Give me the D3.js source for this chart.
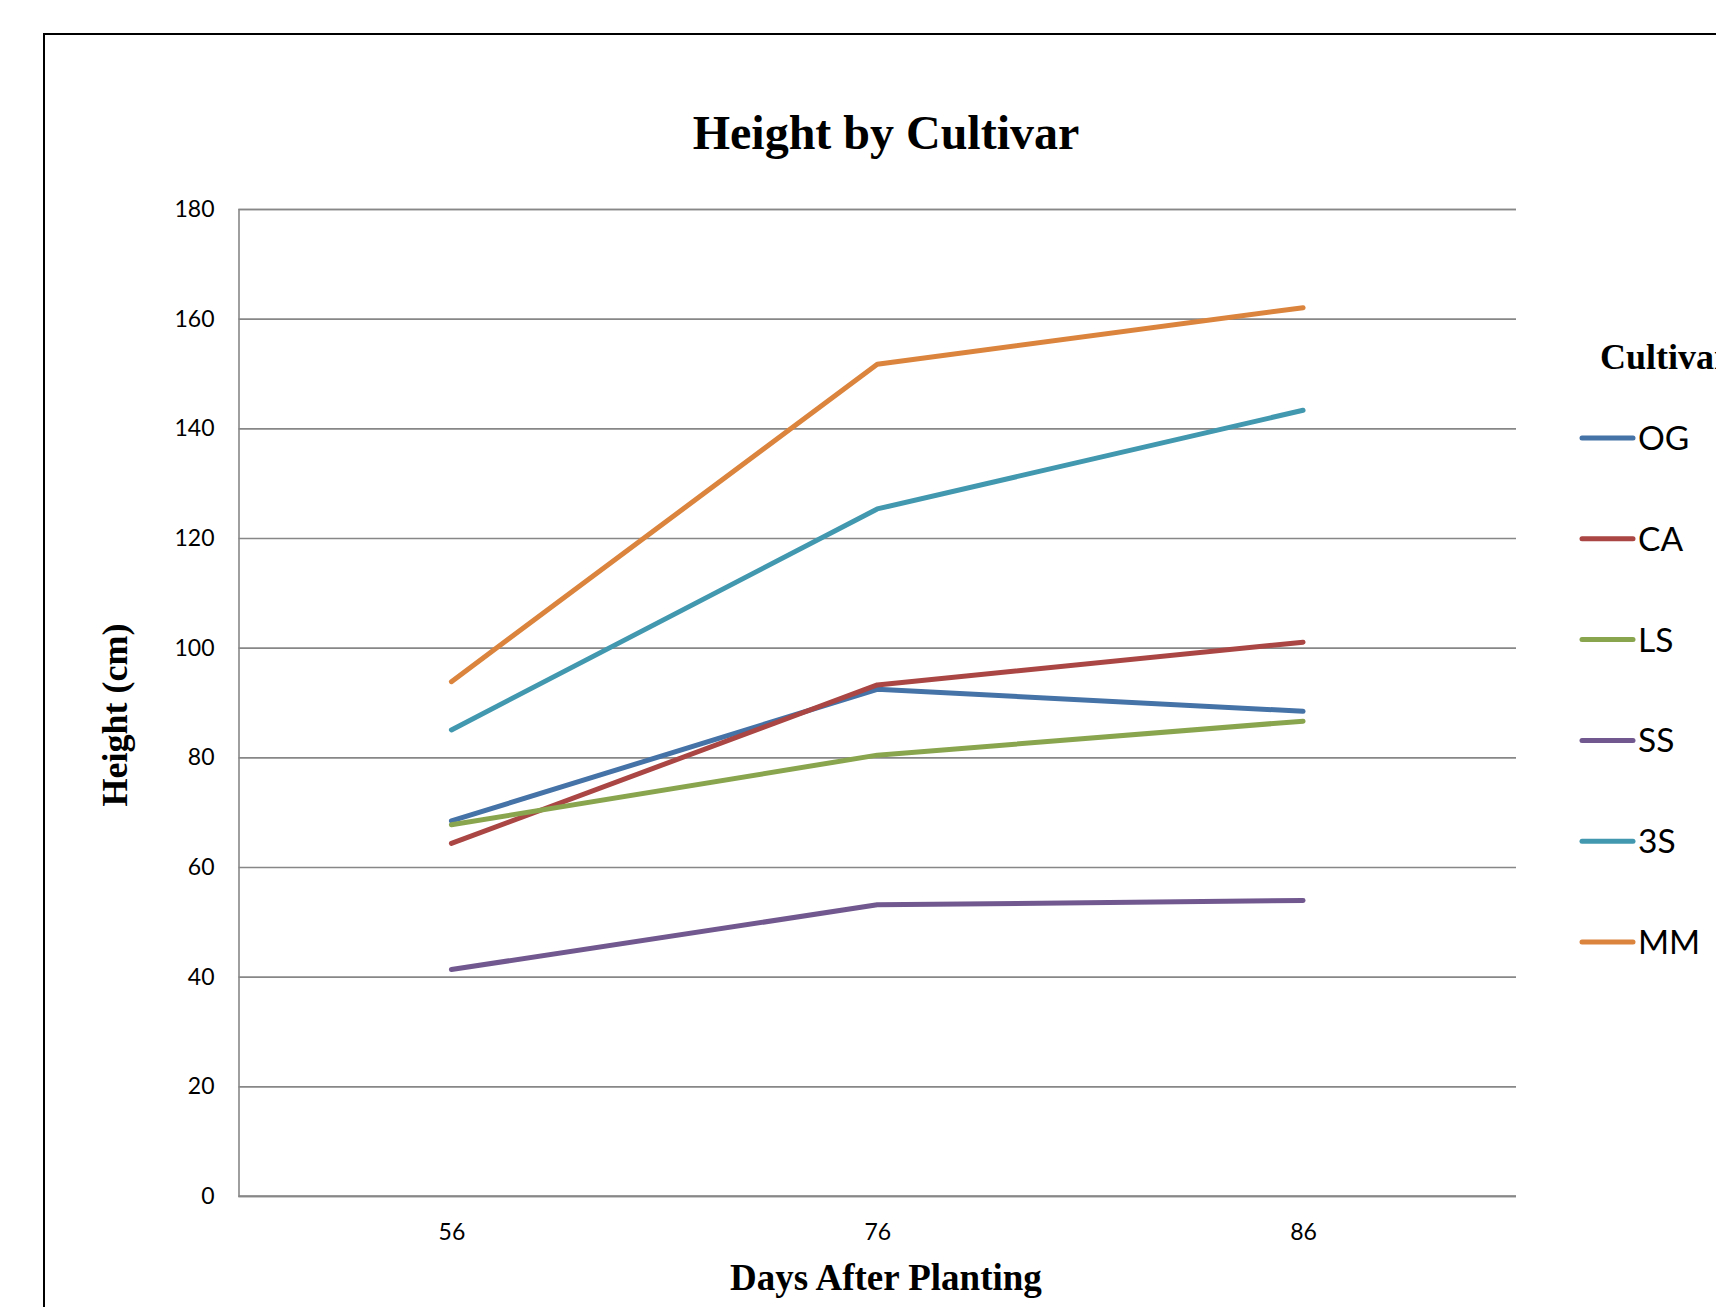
<!DOCTYPE html>
<html>
<head>
<meta charset="utf-8">
<script src="https://cdn.jsdelivr.net/npm/d3@7"></script>
<style>
  html, body { margin: 0; padding: 0; background: #ffffff; overflow: hidden; }
  svg { display: block; }
</style>
</head>
<body>
<script>
// ---- data ----
const categories = ["56", "76", "86"];
const seriesNames = ["OG", "CA", "LS", "SS", "3S", "MM"];
const OG = [68.4, 92.4, 88.4];
const CA = [64.3, 93.2, 101.0];
const LS = [67.7, 80.4, 86.6];
const SS = [41.3, 53.1, 53.9];
const S3 = [85.0, 125.3, 143.3];
const MM = [93.8, 151.7, 162.0];
const yTicks = [0, 20, 40, 60, 80, 100, 120, 140, 160, 180];
const colors = ["#4572A7", "#AA4643", "#89A54E", "#71588F", "#4198AF", "#DB843D"];

const seriesValues = [OG, CA, LS, SS, S3, MM];
const series = seriesNames.map((name, i) => ({
  name, color: colors[i],
  values: categories.map((c, j) => ({ cat: c, v: seriesValues[i][j] }))
}));

// ---- layout ----
const W = 1716, H = 1307;
const plot = { left: 238.5, right: 1516, top: 209, bottom: 1196 };

const svg = d3.select("body").append("svg").attr("width", W).attr("height", H);

// outer frame
svg.append("rect")
  .attr("x", 44).attr("y", 34)
  .attr("width", 2000).attr("height", 2000)
  .attr("fill", "none").attr("stroke", "#000").attr("stroke-width", 2);

const x = d3.scalePoint().domain(categories).range([plot.left, plot.right]).padding(0.5);
const y = d3.scaleLinear().domain([0, 180]).range([plot.bottom, plot.top]);

const gridColor = "#878787";

// y axis + gridlines
const yAxis = svg.append("g")
  .attr("transform", `translate(${plot.left},0)`)
  .call(d3.axisLeft(y).tickValues(yTicks).tickSize(-(plot.right - plot.left)).tickPadding(24).tickFormat(d3.format("d")));
yAxis.select(".domain").attr("stroke", gridColor).attr("stroke-width", 1.6);
yAxis.selectAll(".tick line").attr("stroke", gridColor).attr("stroke-width", 1.6);
yAxis.selectAll(".tick text")
  .attr("font-family", "Lato, 'Open Sans', sans-serif")
  .attr("font-size", 23).attr("fill", "#000");

// x axis
const xAxis = svg.append("g")
  .attr("transform", `translate(0,${plot.bottom})`)
  .call(d3.axisBottom(x).tickSize(0).tickPadding(28));
xAxis.select(".domain").attr("stroke", gridColor).attr("stroke-width", 1.6)
  .attr("d", `M${plot.left},0H${plot.right}`);
xAxis.selectAll(".tick text")
  .attr("font-family", "Lato, 'Open Sans', sans-serif")
  .attr("font-size", 23).attr("fill", "#000");

// lines
const line = d3.line().x(d => x(d.cat)).y(d => y(d.v));
svg.append("g").selectAll("path")
  .data(series)
  .join("path")
  .attr("d", d => line(d.values))
  .attr("fill", "none")
  .attr("stroke", d => d.color)
  .attr("stroke-width", 5)
  .attr("stroke-linecap", "round")
  .attr("stroke-linejoin", "round");

// titles
const serif = "'Liberation Serif', 'Times New Roman', serif";
svg.append("text")
  .attr("x", 886).attr("y", 149)
  .attr("text-anchor", "middle")
  .attr("font-family", serif).attr("font-weight", "bold").attr("font-size", 48)
  .text("Height by Cultivar");

svg.append("text")
  .attr("x", 886).attr("y", 1290)
  .attr("text-anchor", "middle")
  .attr("font-family", serif).attr("font-weight", "bold").attr("font-size", 37)
  .text("Days After Planting");

svg.append("text")
  .attr("transform", "translate(127,715) rotate(-90)")
  .attr("text-anchor", "middle")
  .attr("font-family", serif).attr("font-weight", "bold").attr("font-size", 36)
  .text("Height (cm)");

// legend
svg.append("text")
  .attr("x", 1600).attr("y", 369)
  .attr("font-family", serif).attr("font-weight", "bold").attr("font-size", 36)
  .text("Cultivar");

const legendY = d3.scalePoint().domain(seriesNames).range([438, 942]);
const lg = svg.append("g").selectAll("g")
  .data(series)
  .join("g")
  .attr("transform", d => `translate(0,${legendY(d.name)})`);
lg.append("line")
  .attr("x1", 1582).attr("x2", 1633)
  .attr("stroke", d => d.color).attr("stroke-width", 5)
  .attr("stroke-linecap", "round");
lg.append("text")
  .attr("x", 1638).attr("y", 0).attr("dy", "0.36em")
  .attr("font-family", "Lato, 'Open Sans', sans-serif")
  .attr("font-size", 33.5)
  .text(d => d.name);
</script>
</body>
</html>
